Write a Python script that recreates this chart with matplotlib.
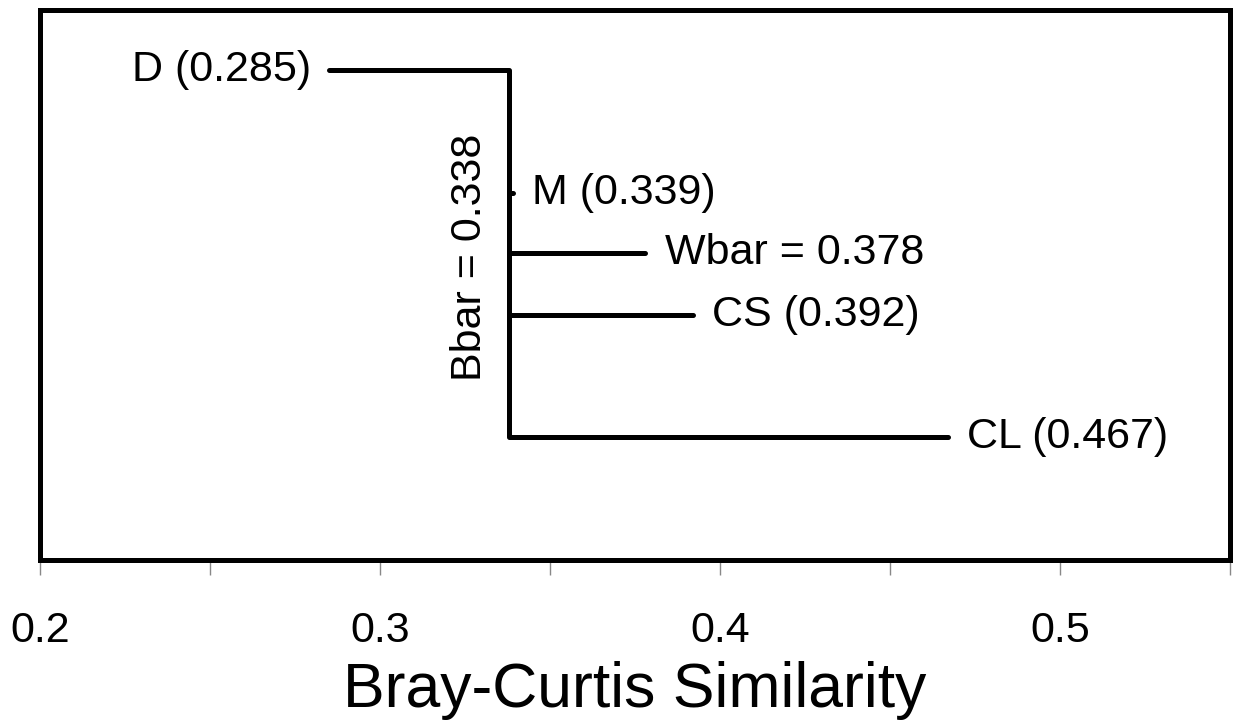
import matplotlib
matplotlib.use("Agg")
import matplotlib.pyplot as plt

plt.rcParams['font.family'] = ['Liberation Sans', 'DejaVu Sans']

# Dendrogram leaves (Bray-Curtis similarity) and the labels shown next to them
leaf_names = ['D (0.285)', 'M (0.339)', 'Wbar = 0.378', 'CS (0.392)', 'CL (0.467)']
leaf_values = [0.285, 0.339, 0.378, 0.392, 0.467]
bbar = 0.338
bbar_label = 'Bbar = 0.338'

# vertical position of each leaf (axes fraction, measured from top)
row_y = [0.109, 0.333, 0.442, 0.555, 0.776]

fig = plt.figure(figsize=(12.33, 7.25), dpi=100)
ax = fig.add_axes([0.0324, 0.2276, 0.9651, 0.7586])
ax.set_xlim(0.2, 0.55)
ax.set_ylim(1, 0)

lw = 3.6
fs = 31
# vertical connector at Bbar
ax.plot([bbar, bbar], [row_y[0], row_y[-1]], color='black', lw=lw, solid_capstyle='butt')

for name, val, y in zip(leaf_names, leaf_values, row_y):
    ax.plot([bbar, val], [y, y], color='black', lw=lw, solid_capstyle='round')
    if val < bbar:
        ax.annotate(name, (val, y), xytext=(-13, 0), textcoords='offset points',
                    ha='right', va='center', fontsize=fs)
    else:
        ax.annotate(name, (val, y), xytext=(14, 0), textcoords='offset points',
                    ha='left', va='center', fontsize=fs)

# y here is axes fraction from the bottom
ax.text(0.3265, 0.55, bbar_label, rotation=90, ha='center', va='center', fontsize=fs,
        transform=ax.get_xaxis_transform())

for s in ax.spines.values():
    s.set_linewidth(lw)

ax.set_yticks([])
ax.set_xticks([0.2, 0.3, 0.4, 0.5])
ax.set_xticklabels(['0.2', '0.3', '0.4', '0.5'], fontsize=fs)
ax.set_xticks([0.25, 0.35, 0.45, 0.55], minor=True)
ax.tick_params(axis='x', which='both', direction='out', length=11, width=1,
               color='#888888', pad=26)
ax.set_xlabel('Bray-Curtis Similarity', fontsize=45, labelpad=7)

fig.savefig('out.png', dpi=100)
